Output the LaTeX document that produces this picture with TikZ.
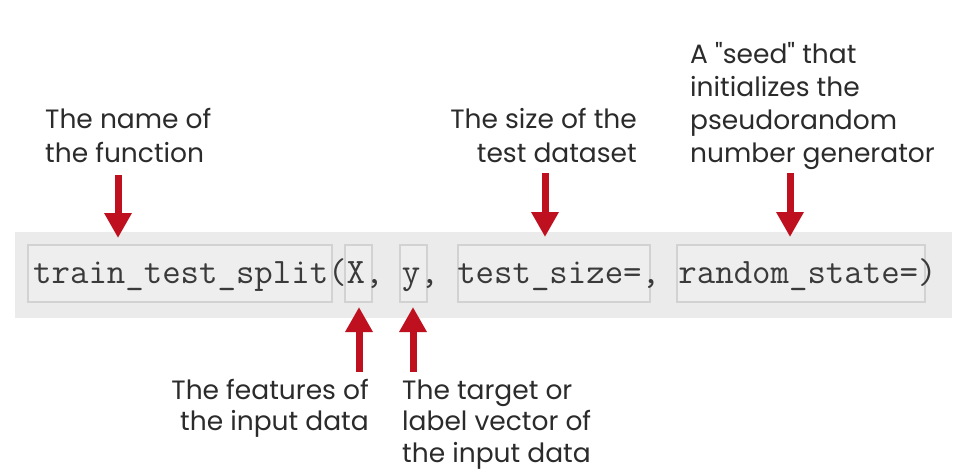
\documentclass[tikz,border=0pt]{standalone}
\usepackage{fontspec}
\setmainfont{Poppins}[Ligatures=TeXOff]
\usetikzlibrary{arrows.meta}
\definecolor{bandgray}{HTML}{EBEBEB}
\definecolor{boxfill}{HTML}{EEEEEE}
\definecolor{boxline}{HTML}{D2D2D2}
\definecolor{arrowred}{RGB}{190,16,30}
\definecolor{inktext}{HTML}{2B2B2B}
\definecolor{codeink}{HTML}{3A3A3A}
\tikzset{
  labeltext/.style={font=\fontsize{26.5}{33}\selectfont, text=inktext, inner sep=0pt},
  codetext/.style={font=\ttfamily\fontsize{35.8}{38}\selectfont, text=codeink, inner sep=0pt, anchor=base west},
  codebox/.style={draw=boxline, fill=boxfill, line width=2pt},
  redarrow/.style={draw=arrowred, line width=7pt, -{Triangle[width=26pt,length=25pt]}},
}
\begin{document}
\begin{tikzpicture}[x=1pt,y=-1pt]
  % canvas
  \useasboundingbox (0,0) rectangle (957,472);
  \fill[white] (0,0) rectangle (957,472);

  % grey band holding the call
  \fill[bandgray] (15,232) rectangle (952,318);

  % argument boxes
  \draw[codebox] (28,245) rectangle (332,302);
  \draw[codebox] (345,245) rectangle (372,302);
  \draw[codebox] (400,245) rectangle (427,302);
  \draw[codebox] (458,245) rectangle (650,302);
  \draw[codebox] (677,245) rectangle (925,302);

  % the call itself
  \node[codetext] (call) at (33,283) {train\_test\_split(X, y, test\_size=, random\_state=)};

  % labels above
  \node[labeltext, anchor=base west] (fnA) at (45,128) {The name of};
  \node[labeltext, anchor=base west] (fnB) at (45,162) {the function};

  \node[labeltext, anchor=base east] (szA) at (637,128) {The size of the};
  \node[labeltext, anchor=base east] (szB) at (637,162) {test dataset};

  \node[labeltext, anchor=base west] (sdA) at (690,63) {A "seed" that};
  \node[labeltext, anchor=base west] (sdB) at (690,96) {initializes the};
  \node[labeltext, anchor=base west] (sdC) at (690,129) {pseudorandom};
  \node[labeltext, anchor=base west] (sdD) at (690,162) {number generator};

  % labels below
  \node[labeltext, anchor=base east] (ftA) at (369,399) {The features of};
  \node[labeltext, anchor=base east] (ftB) at (369,430.5) {the input data};

  \node[labeltext, anchor=base west] (tgA) at (402,399) {The target or};
  \node[labeltext, anchor=base west] (tgB) at (402,430.5) {label vector of};
  \node[labeltext, anchor=base west] (tgC) at (402,462) {the input data};

  % arrow end points
  \coordinate (fnTail) at (118,175);  \coordinate (fnTip) at (118,238);
  \coordinate (szTail) at (545,173);  \coordinate (szTip) at (545,237);
  \coordinate (sdTail) at (790,173);  \coordinate (sdTip) at (790,237);
  \coordinate (ftTail) at (359,372);  \coordinate (ftTip) at (359,307);
  \coordinate (tgTail) at (413,372);  \coordinate (tgTip) at (413,307);

  % arrows
  \draw[redarrow] (fnTail) -- (fnTip);
  \draw[redarrow] (szTail) -- (szTip);
  \draw[redarrow] (sdTail) -- (sdTip);
  \draw[redarrow] (ftTail) -- (ftTip);
  \draw[redarrow] (tgTail) -- (tgTip);
\end{tikzpicture}
\end{document}
